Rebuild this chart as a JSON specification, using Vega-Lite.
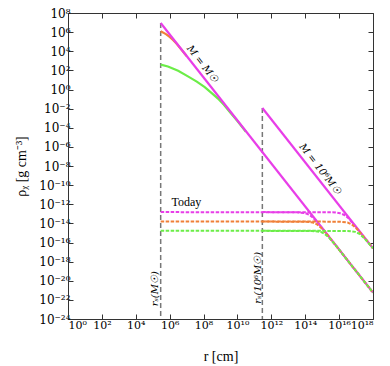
{
  "$schema": "https://vega.github.io/schema/vega-lite/v6.json",
  "width": 305,
  "height": 306,
  "autosize": "none",
  "padding": {"left": 68, "top": 13, "right": 17, "bottom": 47},
  "background": "white",
  "config": {
    "view": {"stroke": null},
    "font": "Liberation Serif",
    "axis": {"labelFont": "DejaVu Serif", "titleFont": "Liberation Serif", "labelFontSize": 12, "titleFontSize": 14, "titleFontWeight": "normal", "labelColor": "black", "titleColor": "black", "domainColor": "#333", "tickColor": "#333", "grid": false}
  },
  "datasets": {
    "rules": [
      {"r": 2.95e5, "top": 8.91e6, "bottom": 1e-24},
      {"r": 2.95e11, "top": 1.15e-2, "bottom": 1e-24}
    ],
    "solid": [
      {"r": 2.95e5, "rho": 1.2e6, "case": "B", "mass": "1"},
      {"r": 3.98e5, "rho": 9.33e5, "case": "B", "mass": "1"},
      {"r": 6.31e5, "rho": 5.89e5, "case": "B", "mass": "1"},
      {"r": 1e6, "rho": 3.16e5, "case": "B", "mass": "1"},
      {"r": 1.585e6, "rho": 1.48e5, "case": "B", "mass": "1"},
      {"r": 2.51e6, "rho": 6.31e4, "case": "B", "mass": "1"},
      {"r": 5.01e6, "rho": 1.45e4, "case": "B", "mass": "1"},
      {"r": 1e7, "rho": 3.16e3, "case": "B", "mass": "1"},
      {"r": 2.95e5, "rho": 398, "case": "C", "mass": "1"},
      {"r": 7.94e5, "rho": 257, "case": "C", "mass": "1"},
      {"r": 3.16e6, "rho": 89.1, "case": "C", "mass": "1"},
      {"r": 1.2e7, "rho": 23.4, "case": "C", "mass": "1"},
      {"r": 3.98e7, "rho": 6.61, "case": "C", "mass": "1"},
      {"r": 1.175e8, "rho": 1.78, "case": "C", "mass": "1"},
      {"r": 3.16e8, "rho": 0.398, "case": "C", "mass": "1"},
      {"r": 7.08e8, "rho": 0.112, "case": "C", "mass": "1"},
      {"r": 1.585e9, "rho": 0.0251, "case": "C", "mass": "1"},
      {"r": 3.98e9, "rho": 3.55e-3, "case": "C", "mass": "1"},
      {"r": 1e10, "rho": 5.01e-4, "case": "C", "mass": "1"},
      {"r": 3.16e10, "rho": 3.8e-5, "case": "C", "mass": "1"}
    ],
    "spike": [
      {"r": 2.95e5, "rho": 8.91e6, "case": "A", "mass": "1"},
      {"r": 1e18, "rho": 5.75e-22, "case": "A", "mass": "1"},
      {"r": 2.95e11, "rho": 1.15e-2, "case": "A", "mass": "1e6"},
      {"r": 1e18, "rho": 2.51e-17, "case": "A", "mass": "1e6"}
    ],
    "today": [
      {"r": 2.95e5, "rho": 1.51e-13, "case": "A", "mass": "1"},
      {"r": 3.16e13, "rho": 1.45e-13, "case": "A", "mass": "1"},
      {"r": 1e14, "rho": 1.2e-13, "case": "A", "mass": "1"},
      {"r": 1.82e14, "rho": 7.59e-14, "case": "A", "mass": "1"},
      {"r": 3.16e14, "rho": 3.39e-14, "case": "A", "mass": "1"},
      {"r": 1e15, "rho": 3.24e-15, "case": "A", "mass": "1"},
      {"r": 1e18, "rho": 5.75e-22, "case": "A", "mass": "1"},
      {"r": 2.95e11, "rho": 1.51e-13, "case": "A", "mass": "1e6"},
      {"r": 6.31e15, "rho": 1.41e-13, "case": "A", "mass": "1e6"},
      {"r": 1.12e16, "rho": 1.17e-13, "case": "A", "mass": "1e6"},
      {"r": 2.04e16, "rho": 7.59e-14, "case": "A", "mass": "1e6"},
      {"r": 3.55e16, "rho": 3.47e-14, "case": "A", "mass": "1e6"},
      {"r": 1e17, "rho": 4.07e-15, "case": "A", "mass": "1e6"},
      {"r": 1e18, "rho": 2.51e-17, "case": "A", "mass": "1e6"},
      {"r": 2.95e5, "rho": 1.58e-14, "case": "B", "mass": "1"},
      {"r": 1e14, "rho": 1.51e-14, "case": "B", "mass": "1"},
      {"r": 2.82e14, "rho": 1.23e-14, "case": "B", "mass": "1"},
      {"r": 4.9e14, "rho": 7.94e-15, "case": "B", "mass": "1"},
      {"r": 8.91e14, "rho": 3.31e-15, "case": "B", "mass": "1"},
      {"r": 2.51e15, "rho": 3.98e-16, "case": "B", "mass": "1"},
      {"r": 1e18, "rho": 5.75e-22, "case": "B", "mass": "1"},
      {"r": 2.95e11, "rho": 1.58e-14, "case": "B", "mass": "1e6"},
      {"r": 1e16, "rho": 1.51e-14, "case": "B", "mass": "1e6"},
      {"r": 3.16e16, "rho": 1.23e-14, "case": "B", "mass": "1e6"},
      {"r": 5.5e16, "rho": 7.94e-15, "case": "B", "mass": "1e6"},
      {"r": 1e17, "rho": 3.31e-15, "case": "B", "mass": "1e6"},
      {"r": 2.51e17, "rho": 5.13e-16, "case": "B", "mass": "1e6"},
      {"r": 1e18, "rho": 2.51e-17, "case": "B", "mass": "1e6"},
      {"r": 2.95e5, "rho": 1.7e-15, "case": "C", "mass": "1"},
      {"r": 2.51e14, "rho": 1.62e-15, "case": "C", "mass": "1"},
      {"r": 7.94e14, "rho": 1.29e-15, "case": "C", "mass": "1"},
      {"r": 1.32e15, "rho": 8.51e-16, "case": "C", "mass": "1"},
      {"r": 2.51e15, "rho": 3.31e-16, "case": "C", "mass": "1"},
      {"r": 6.31e15, "rho": 5.01e-17, "case": "C", "mass": "1"},
      {"r": 1e18, "rho": 5.75e-22, "case": "C", "mass": "1"},
      {"r": 2.95e11, "rho": 1.7e-15, "case": "C", "mass": "1e6"},
      {"r": 3.16e16, "rho": 1.62e-15, "case": "C", "mass": "1e6"},
      {"r": 8.91e16, "rho": 1.29e-15, "case": "C", "mass": "1e6"},
      {"r": 1.48e17, "rho": 8.51e-16, "case": "C", "mass": "1e6"},
      {"r": 2.82e17, "rho": 3.24e-16, "case": "C", "mass": "1e6"},
      {"r": 6.31e17, "rho": 6.46e-17, "case": "C", "mass": "1e6"},
      {"r": 1e18, "rho": 2.51e-17, "case": "C", "mass": "1e6"}
    ],
    "diag": [
      {"r": 8.5e7, "rho": 450, "label": "M = M☉"},
      {"r": 7.5e14, "rho": 5e-9, "label": "M = 10⁶M☉"}
    ],
    "vert": [
      {"r": 1.32e5, "rho": 1.45e-21, "label": "rₛ(M☉)"},
      {"r": 1.66e11, "rho": 2.04e-20, "label": "rₛ(10⁶M☉)"}
    ],
    "horiz": [
      {"r": 9.77e6, "rho": 1.7e-12, "label": "Today"}
    ]
  },
  "resolve": {"axis": {"x": "independent", "y": "independent"}},
  "layer": [
    {
      "data": {"name": "rules"},
      "mark": {"type": "rule", "color": "#777777", "strokeWidth": 1.5, "strokeDash": [5, 3]},
      "encoding": {
        "x": {"field": "r", "type": "quantitative", "scale": {"type": "log", "domain": [1, 1e18], "nice": false},
          "axis": {"orient": "top", "values": [1, 1e2, 1e4, 1e6, 1e8, 1e10, 1e12, 1e14, 1e16, 1e18], "labels": false, "title": null, "tickSize": -5, "domain": true}},
        "y": {"field": "top", "type": "quantitative", "scale": {"type": "log", "domain": [1e-24, 1e8], "nice": false},
          "axis": {"orient": "right", "values": [1e-24, 1e-22, 1e-20, 1e-18, 1e-16, 1e-14, 1e-12, 1e-10, 1e-8, 1e-6, 1e-4, 1e-2, 1, 1e2, 1e4, 1e6, 1e8], "labels": false, "title": null, "tickSize": -5, "domain": true}},
        "y2": {"field": "bottom"}
      }
    },
    {
      "data": {"name": "solid"},
      "mark": {"type": "line", "strokeWidth": 2.2, "clip": true},
      "encoding": {
        "x": {"field": "r", "type": "quantitative", "scale": {"type": "log", "domain": [1, 1e18], "nice": false},
          "axis": {"orient": "bottom", "values": [1, 1e2, 1e4, 1e6, 1e8, 1e10, 1e12, 1e14, 1e16, 1e18], "title": "r  [cm]", "tickSize": -5, "labelPadding": 5, "labelFontSize": 11, "titlePadding": 19, "labelOverlap": false,
            "labelExpr": "'10' + (round(log(datum.value)/LN10) < 0 ? '⁻' : '') + (abs(round(log(datum.value)/LN10)) >= 10 ? substring('⁰¹²³⁴⁵⁶⁷⁸⁹', floor(abs(round(log(datum.value)/LN10))/10), floor(abs(round(log(datum.value)/LN10))/10) + 1) : '') + substring('⁰¹²³⁴⁵⁶⁷⁸⁹', abs(round(log(datum.value)/LN10)) % 10, abs(round(log(datum.value)/LN10)) % 10 + 1)"}},
        "y": {"field": "rho", "type": "quantitative", "scale": {"type": "log", "domain": [1e-24, 1e8], "nice": false},
          "axis": {"orient": "left", "values": [1e-24, 1e-22, 1e-20, 1e-18, 1e-16, 1e-14, 1e-12, 1e-10, 1e-8, 1e-6, 1e-4, 1e-2, 1, 1e2, 1e4, 1e6, 1e8], "title": "ρᵪ  [g cm⁻³]", "tickSize": -5, "labelPadding": 3, "titlePadding": 10, "labelOverlap": false,
            "labelExpr": "'10' + (round(log(datum.value)/LN10) < 0 ? '⁻' : '') + (abs(round(log(datum.value)/LN10)) >= 10 ? substring('⁰¹²³⁴⁵⁶⁷⁸⁹', floor(abs(round(log(datum.value)/LN10))/10), floor(abs(round(log(datum.value)/LN10))/10) + 1) : '') + substring('⁰¹²³⁴⁵⁶⁷⁸⁹', abs(round(log(datum.value)/LN10)) % 10, abs(round(log(datum.value)/LN10)) % 10 + 1)"}},
        "color": {"field": "case", "type": "nominal", "scale": {"domain": ["A", "B", "C"], "range": ["#e83ee8", "#f08038", "#6ced48"]}, "legend": null},
        "detail": {"field": "mass", "type": "nominal"}
      }
    },
    {
      "data": {"name": "spike"},
      "mark": {"type": "line", "strokeWidth": 2.2, "clip": true},
      "encoding": {
        "x": {"field": "r", "type": "quantitative", "axis": null},
        "y": {"field": "rho", "type": "quantitative", "axis": null},
        "color": {"field": "case", "type": "nominal", "legend": null},
        "detail": {"field": "mass", "type": "nominal"}
      }
    },
    {
      "data": {"name": "today"},
      "mark": {"type": "line", "strokeWidth": 2, "strokeDash": [3.5, 1.5], "clip": true},
      "encoding": {
        "x": {"field": "r", "type": "quantitative", "axis": null},
        "y": {"field": "rho", "type": "quantitative", "axis": null},
        "color": {"field": "case", "type": "nominal", "legend": null},
        "detail": {"field": "mass", "type": "nominal"}
      }
    },
    {
      "data": {"name": "diag"},
      "mark": {"type": "text", "angle": 52, "font": "DejaVu Serif", "fontSize": 10, "fontStyle": "italic", "align": "center", "baseline": "middle", "color": "black"},
      "encoding": {
        "x": {"field": "r", "type": "quantitative", "axis": null},
        "y": {"field": "rho", "type": "quantitative", "axis": null},
        "text": {"field": "label"}
      }
    },
    {
      "data": {"name": "vert"},
      "mark": {"type": "text", "angle": 270, "font": "DejaVu Serif", "fontSize": 10, "fontStyle": "italic", "align": "center", "baseline": "middle", "color": "black"},
      "encoding": {
        "x": {"field": "r", "type": "quantitative", "axis": null},
        "y": {"field": "rho", "type": "quantitative", "axis": null},
        "text": {"field": "label"}
      }
    },
    {
      "data": {"name": "horiz"},
      "mark": {"type": "text", "font": "Liberation Serif", "fontSize": 12, "align": "center", "baseline": "middle", "color": "black"},
      "encoding": {
        "x": {"field": "r", "type": "quantitative", "axis": null},
        "y": {"field": "rho", "type": "quantitative", "axis": null},
        "text": {"field": "label"}
      }
    }
  ]
}
